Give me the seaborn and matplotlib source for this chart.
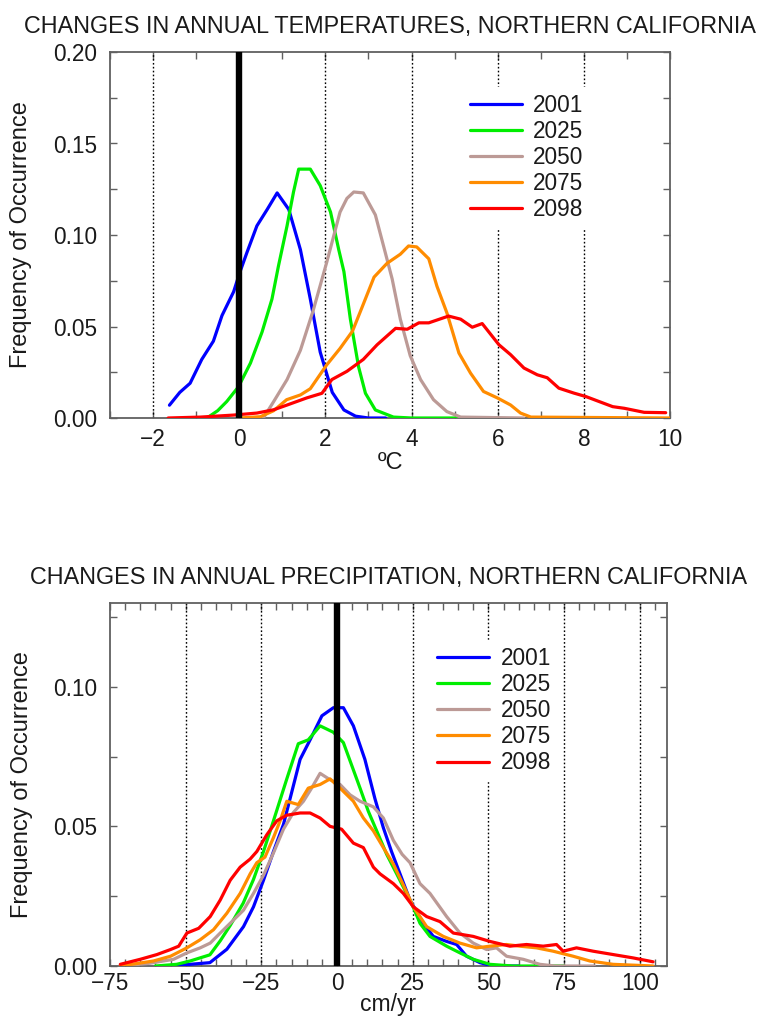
import numpy as np
import pandas as pd
import matplotlib
matplotlib.use("Agg")
import matplotlib.pyplot as plt
from matplotlib.ticker import MultipleLocator
import seaborn as sns

# ---------------- data ----------------
years = ["2001", "2025", "2050", "2075", "2098"]
colors = ["#0000ff", "#00ee00", "#bc9a96", "#ff8c00", "#ff0000"]

# Temperature change (deg C) vs frequency
t2001_x = [-1.62, -1.38, -1.14, -0.87, -0.60, -0.40, -0.13, 0.02, 0.18, 0.41, 0.65, 0.88, 1.15, 1.42, 1.65, 1.88, 2.16, 2.43, 2.70, 3.00, 3.40]
t2001_y = [0.007, 0.014, 0.019, 0.032, 0.042, 0.056, 0.069, 0.080, 0.0905, 0.105, 0.114, 0.123, 0.114, 0.092, 0.065, 0.036, 0.014, 0.0044, 0.001, 0.0, 0.0]
t2025_x = [-0.75, -0.50, -0.29, -0.02, 0.26, 0.53, 0.76, 0.91, 1.11, 1.26, 1.38, 1.65, 1.88, 2.12, 2.31, 2.43, 2.58, 2.77, 2.93, 3.16, 3.58, 4.00, 5.30]
t2025_y = [0.0, 0.004, 0.009, 0.017, 0.030, 0.047, 0.065, 0.083, 0.105, 0.1235, 0.136, 0.136, 0.127, 0.1125, 0.092, 0.080, 0.054, 0.028, 0.0135, 0.0044, 0.0005, 0.0, 0.0]
t2050_x = [0.56, 0.80, 1.11, 1.42, 1.72, 2.03, 2.34, 2.50, 2.66, 2.88, 3.16, 3.35, 3.55, 3.74, 3.97, 4.21, 4.51, 4.82, 5.14, 6.60]
t2050_y = [0.0, 0.009, 0.021, 0.037, 0.059, 0.085, 0.1125, 0.120, 0.1235, 0.123, 0.111, 0.094, 0.076, 0.054, 0.034, 0.021, 0.010, 0.0035, 0.0005, 0.0]
t2075_x = [0.00, 0.49, 0.80, 1.10, 1.42, 1.65, 2.03, 2.34, 2.63, 2.86, 3.13, 3.43, 3.74, 3.93, 4.12, 4.40, 4.59, 4.82, 5.10, 5.37, 5.67, 5.99, 6.30, 6.53, 6.77, 10.0]
t2075_y = [0.0, 0.0007, 0.004, 0.010, 0.0126, 0.016, 0.029, 0.038, 0.0475, 0.061, 0.077, 0.0845, 0.0895, 0.094, 0.0935, 0.087, 0.072, 0.0575, 0.0355, 0.0245, 0.0145, 0.011, 0.0071, 0.0027, 0.0005, 0.0]
t2098_x = [-1.65, -0.90, -0.13, 0.41, 0.80, 1.10, 1.57, 1.92, 2.15, 2.50, 2.88, 3.20, 3.63, 3.90, 4.17, 4.40, 4.86, 5.14, 5.41, 5.64, 6.03, 6.30, 6.61, 6.92, 7.15, 7.42, 7.77, 8.05, 8.32, 8.67, 8.94, 9.40, 9.90]
t2098_y = [0.0, 0.0005, 0.0016, 0.0027, 0.0045, 0.007, 0.011, 0.0135, 0.021, 0.0255, 0.032, 0.040, 0.049, 0.0485, 0.052, 0.052, 0.0557, 0.054, 0.0496, 0.0516, 0.040, 0.0346, 0.0273, 0.0236, 0.022, 0.0163, 0.0136, 0.0117, 0.0093, 0.0062, 0.0053, 0.0031, 0.0029]

# Precipitation change (cm/yr) vs frequency
p2001_x = [-55, -42, -36.4, -30.9, -27.6, -24.3, -21, -17.7, -15.5, -12.2, -8.9, -5, -1.2, 2.1, 5.4, 9.2, 12.5, 15.3, 18, 20.8, 24.1, 28.5, 31.8, 36.2, 39.5, 42.8, 47.2, 51.5, 60]
p2001_y = [0.0, 0.0012, 0.006, 0.0141, 0.0212, 0.0307, 0.041, 0.0507, 0.060, 0.074, 0.081, 0.0896, 0.0925, 0.0925, 0.086, 0.074, 0.060, 0.0495, 0.041, 0.033, 0.0236, 0.0153, 0.0106, 0.0088, 0.0077, 0.0035, 0.0012, 0.0, 0.0]
p2025_x = [-60, -53, -48.5, -42, -38.6, -35.3, -31, -27.6, -24.3, -21, -16.6, -12.8, -9.5, -5.6, -1.2, 2.1, 4.8, 7.6, 10.3, 13.1, 16.4, 19.7, 22.5, 25.2, 27.4, 30.7, 36.2, 40.6, 45, 50.5, 58, 75]
p2025_y = [0.0, 0.0006, 0.0018, 0.004, 0.009, 0.0145, 0.0225, 0.031, 0.041, 0.052, 0.067, 0.0796, 0.081, 0.086, 0.0837, 0.080, 0.072, 0.0637, 0.0555, 0.0484, 0.040, 0.033, 0.027, 0.021, 0.0153, 0.0106, 0.0071, 0.0047, 0.0024, 0.0006, 0.0, 0.0]
p2050_x = [-71, -61.7, -54, -49.6, -45.2, -41.9, -38.6, -35.3, -30.9, -27.6, -24.3, -21, -17.7, -14.4, -11.1, -8.4, -5.6, -2.3, 1, 4.3, 7.6, 12, 15.3, 18.6, 21.5, 24.1, 27.4, 30.7, 36.2, 40.6, 45, 49.4, 52.7, 56, 61.5, 67, 72, 85]
p2050_y = [0.0, 0.001, 0.0024, 0.0047, 0.0065, 0.0082, 0.0118, 0.0153, 0.020, 0.026, 0.0325, 0.0405, 0.049, 0.055, 0.059, 0.0637, 0.069, 0.0667, 0.065, 0.0613, 0.059, 0.057, 0.053, 0.045, 0.040, 0.037, 0.0295, 0.026, 0.0177, 0.0118, 0.0082, 0.0059, 0.0065, 0.0035, 0.0024, 0.0006, 0.0, 0.0]
p2075_x = [-71.6, -60.6, -55, -49.6, -45.2, -40.8, -36.4, -32, -28.7, -26.5, -23.8, -21, -18.8, -16.6, -12.8, -9.5, -5.6, -2.3, 1, 5.4, 8.7, 12, 15.3, 18.6, 21.9, 25.2, 29.6, 35.1, 40.6, 46.1, 50.5, 56, 60.4, 65.9, 71.4, 78, 83.5, 91.2, 104.4]
p2075_y = [0.0, 0.0018, 0.0035, 0.0065, 0.0094, 0.013, 0.0189, 0.026, 0.033, 0.037, 0.039, 0.046, 0.052, 0.059, 0.0578, 0.0637, 0.065, 0.067, 0.0637, 0.059, 0.053, 0.0484, 0.0424, 0.0365, 0.029, 0.0212, 0.0141, 0.0106, 0.0082, 0.0065, 0.0071, 0.0077, 0.0071, 0.0065, 0.0053, 0.0035, 0.0018, 0.0006, 0.0]
p2098_x = [-71.6, -65, -59.5, -55, -52.3, -49.6, -45.7, -41.9, -38.6, -35.3, -32, -28.7, -26.5, -23.2, -19.9, -16.6, -12.2, -8.9, -5.6, -2.3, 1.5, 5.4, 8.7, 12, 14.2, 18.6, 21.9, 25.2, 29.6, 34, 38.4, 45, 50.5, 57.1, 62.6, 68.1, 72.5, 74.7, 79.1, 84.6, 91.2, 97.8, 104.4]
p2098_y = [0.0006, 0.0024, 0.0041, 0.0059, 0.0071, 0.0118, 0.0135, 0.0177, 0.0236, 0.0307, 0.0354, 0.0383, 0.041, 0.047, 0.052, 0.054, 0.0548, 0.0548, 0.053, 0.050, 0.049, 0.044, 0.0424, 0.0354, 0.033, 0.0295, 0.026, 0.0212, 0.0177, 0.0159, 0.0118, 0.0106, 0.0088, 0.0071, 0.0077, 0.0071, 0.0077, 0.0053, 0.0065, 0.0053, 0.0041, 0.0029, 0.0015]

temp_title = "CHANGES IN ANNUAL TEMPERATURES, NORTHERN CALIFORNIA"
prec_title = "CHANGES IN ANNUAL PRECIPITATION, NORTHERN CALIFORNIA"
ylabel = "Frequency of Occurrence"
temp_xlabel = "\u00baC"
prec_xlabel = "cm/yr"

temp_grid = [-2, 2, 4, 6, 8]
prec_grid = [-50, -25, 25, 50, 75, 100]


def long_df(xs, ys):
    frames = []
    for yr, x, y in zip(years, xs, ys):
        frames.append(pd.DataFrame({"x": x, "freq": y, "year": yr}))
    return pd.concat(frames, ignore_index=True)


temp_df = long_df([t2001_x, t2025_x, t2050_x, t2075_x, t2098_x],
                  [t2001_y, t2025_y, t2050_y, t2075_y, t2098_y])
prec_df = long_df([p2001_x, p2025_x, p2050_x, p2075_x, p2098_x],
                  [p2001_y, p2025_y, p2050_y, p2075_y, p2098_y])

# ---------------- style ----------------
sns.set_style("ticks")
plt.rcParams["font.family"] = ["Liberation Sans", "DejaVu Sans"]
plt.rcParams["axes.unicode_minus"] = True

FS_TICK = 16.3
FS_LAB = 17
FS_TITLE = 16.8
SPINE = "#606060"
TXT = "#1a1a1a"
palette = dict(zip(years, colors))

fig = plt.figure(figsize=(7.61, 10.22), dpi=100)
W, H = 761.0, 1022.0
ax1 = fig.add_axes([110 / W, (H - 418) / H, 560 / W, 366 / H])
ax2 = fig.add_axes([110 / W, (H - 966) / H, 557 / W, 363 / H])


def style_axis(ax, df, xlim, ylim, xmaj, xmin, grid, title, xlabel, leg_anchor,
               xlab_y, xpad, xlab_fs):
    for g in grid:
        ax.axvline(g, color="black", lw=1.0, ls=(0, (1.2, 1.6)), zorder=1)
    sns.lineplot(data=df, x="x", y="freq", hue="year", hue_order=years,
                 palette=palette, estimator=None, lw=2.3, ax=ax, legend=True,
                 zorder=3)
    handles, labels = ax.get_legend_handles_labels()
    for h in handles:
        h.set_linewidth(2.3)
    ax.axvline(0, color="black", lw=4.6, zorder=4)
    ax.set_xlim(*xlim)
    ax.set_ylim(*ylim)
    ax.xaxis.set_major_locator(MultipleLocator(xmaj))
    ax.xaxis.set_minor_locator(MultipleLocator(xmin))
    ax.yaxis.set_major_locator(MultipleLocator(0.05))
    ax.yaxis.set_minor_locator(MultipleLocator(0.025))
    ax.yaxis.set_major_formatter(matplotlib.ticker.FormatStrFormatter("%.2f"))
    ax.tick_params(which="both", direction="in", top=True, right=True,
                   length=5, width=1.0, color=SPINE, labelsize=FS_TICK,
                   labelcolor=TXT)
    ax.tick_params(axis="y", which="major", pad=9)
    ax.tick_params(axis="x", which="major", pad=xpad)
    for s in ax.spines.values():
        s.set_color(SPINE)
        s.set_linewidth(1.3)
        s.set_visible(True)
    ax.set_title(title, fontsize=FS_TITLE, color=TXT, pad=14)
    ax.set_xlabel(xlabel, fontsize=xlab_fs, color=TXT)
    ax.set_ylabel(ylabel, fontsize=FS_LAB, color=TXT)
    ax.yaxis.set_label_coords(-0.139, 0.5)
    ax.xaxis.set_label_coords(0.5, xlab_y)
    leg = ax.legend(handles, labels, loc="upper left", bbox_to_anchor=leg_anchor,
                    frameon=True, fancybox=False, framealpha=1.0,
                    facecolor="white", edgecolor="white", fontsize=FS_TICK,
                    handlelength=2.3, handletextpad=0.5, labelspacing=0.14,
                    borderpad=0.3, borderaxespad=0.0)
    for t in leg.get_texts():
        t.set_color(TXT)
    leg.set_zorder(10)
    return ax


style_axis(ax1, temp_df, (-3, 10), (0, 0.20), 2, 1, temp_grid, temp_title,
           temp_xlabel, (0.63, 0.905), -0.093, 7, FS_LAB)
style_axis(ax2, prec_df, (-75, 109), (0, 0.13), 25, 5, prec_grid, prec_title,
           prec_xlabel, (0.575, 0.898), -0.0744, 4, 16.5)

fig.savefig("out.png", dpi=100)
